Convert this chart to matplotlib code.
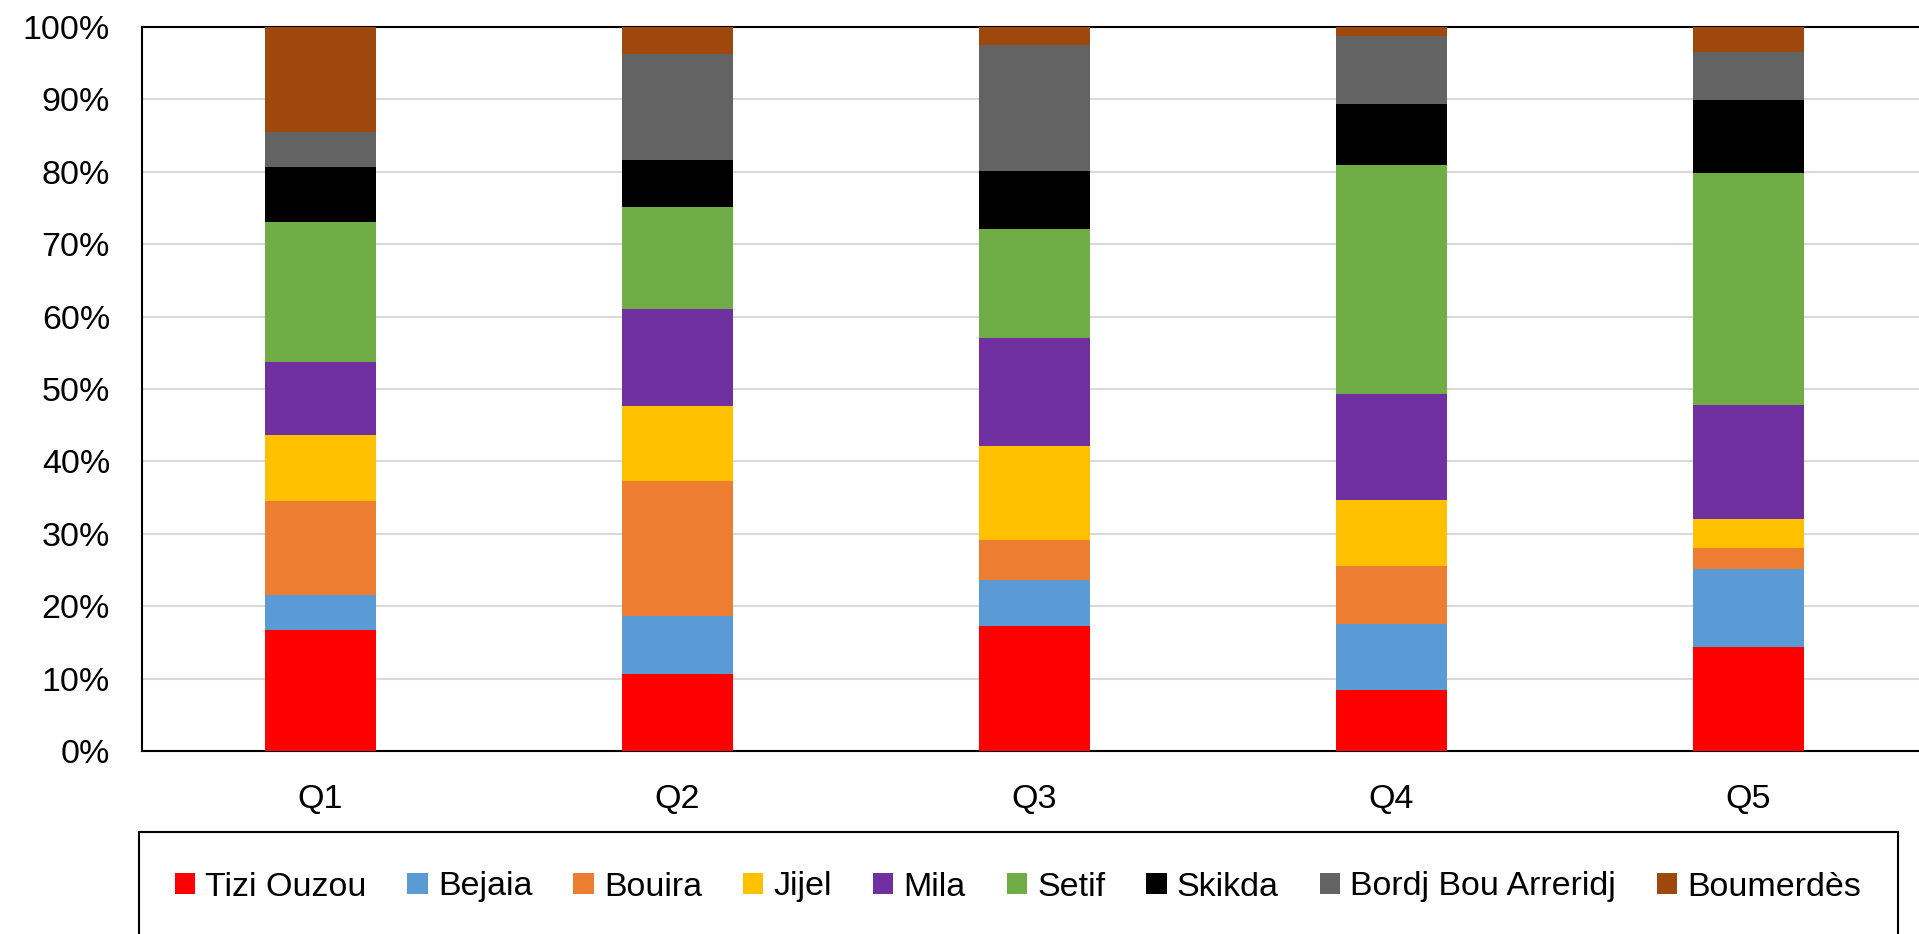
import matplotlib
matplotlib.use("Agg")
import matplotlib.pyplot as plt
import matplotlib.patches as mpatches
import numpy as np

plt.rcParams['font.family'] = ['Liberation Sans', 'DejaVu Sans']

# categories and series (percent share per quintile)
quintiles = ['Q1', 'Q2', 'Q3', 'Q4', 'Q5']
wilayas = ['Tizi Ouzou', 'Bejaia', 'Bouira', 'Jijel', 'Mila', 'Setif',
           'Skikda', 'Bordj Bou Arreridj', 'Boumerdès']
colors = ['#ff0000', '#5b9bd5', '#ed7d31', '#ffc000', '#7030a0', '#70ad47',
          '#000000', '#636363', '#9e480e']

tizi_ouzou = [16.7, 10.6, 17.2, 8.4, 14.4]
bejaia = [4.9, 8.0, 6.4, 9.2, 10.8]
bouira = [12.9, 18.7, 5.6, 7.9, 2.8]
jijel = [9.1, 10.3, 12.9, 9.1, 4.1]
mila = [10.1, 13.5, 15.0, 14.7, 15.7]
setif = [19.4, 14.1, 15.0, 31.6, 32.1]
skikda = [7.5, 6.4, 8.0, 8.5, 10.0]
bordj = [4.9, 14.7, 17.4, 9.4, 6.7]
boumerdes = [14.5, 3.7, 2.5, 1.2, 3.4]

series = [tizi_ouzou, bejaia, bouira, jijel, mila, setif, skikda, bordj, boumerdes]

W, H = 1919, 934
fig = plt.figure(figsize=(W / 100, H / 100), dpi=100)
ax = fig.add_axes([142 / W, (H - 751) / H, (1927 - 142) / W, (751 - 27) / H])

x = np.arange(len(quintiles))
bottom = np.zeros(len(quintiles))
for name, vals, c in zip(wilayas, series, colors):
    v = np.array(vals) / 100.0
    ax.bar(x, v, bottom=bottom, width=0.31, color=c, label=name, zorder=3)
    bottom += v

ax.set_xlim(-0.5, 4.5)
ax.set_ylim(0, 1)
ax.set_yticks(np.arange(0, 1.01, 0.1))
ax.set_yticklabels([f'{int(round(t * 100))}%' for t in np.arange(0, 1.01, 0.1)])
ax.set_xticks(x)
ax.set_xticklabels(quintiles)
ax.tick_params(axis='both', length=0, labelsize=24.5)
ax.tick_params(axis='x', pad=24)
ax.tick_params(axis='y', pad=23)
ax.grid(axis='y', color='#d9d9d9', linewidth=1.5, zorder=0)
for s in ['left', 'bottom', 'top']:
    ax.spines[s].set_linewidth(1.5)
ax.spines['right'].set_visible(False)

# legend frame running off the bottom edge
fig.patches.append(mpatches.Rectangle((139 / W, -0.05), (1898 - 139) / W, (H - 832) / H + 0.05,
                                      transform=fig.transFigure, fill=False,
                                      edgecolor='black', linewidth=1.5))
fig.legend(loc='center', bbox_to_anchor=(1018 / W, (H - 887) / H), ncol=9,
           frameon=False, fontsize=24.5, handlelength=0.6, handleheight=0.6,
           handletextpad=0.3, columnspacing=1.2)

fig.savefig('out.png', dpi=100)
